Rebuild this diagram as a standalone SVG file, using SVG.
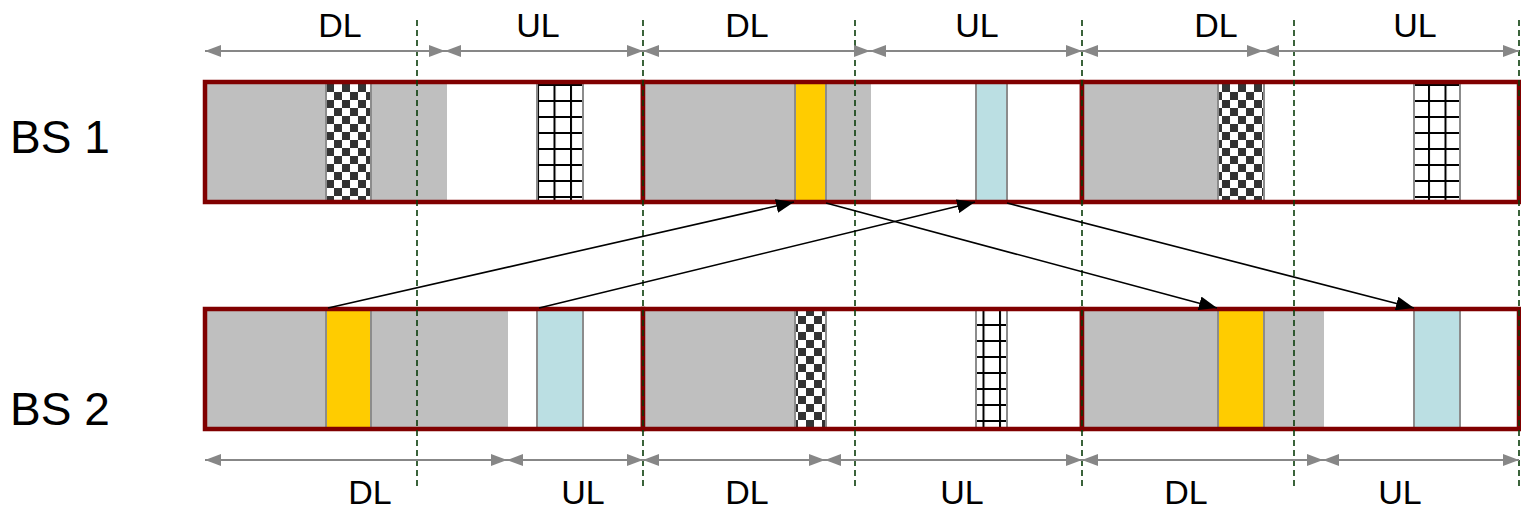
<svg xmlns="http://www.w3.org/2000/svg" width="1521" height="509" viewBox="0 0 1521 509">
<style>
.lbl{font-family:"Liberation Sans",Arial,sans-serif;font-size:34px;fill:#000;text-anchor:middle}
.bs{font-family:"Liberation Sans",Arial,sans-serif;font-size:46px;fill:#000}
.bg{fill:#BFBFBF}
.frame{fill:none;stroke:#800000;stroke-width:4.5}
.strip{stroke:#8C8C8C;stroke-width:2}
.y{fill:#FFCC00}
.b{fill:#BBDFE3}
.ck{fill:url(#checker)}
.gr{fill:url(#grid)}
.dash{stroke:#0B3D0B;stroke-width:1.6;stroke-dasharray:6 4;fill:none}
.span{stroke:#878787;stroke-width:2;fill:none;marker-start:url(#gh);marker-end:url(#gh)}
.conn{stroke:#000;stroke-width:1.6;fill:none;marker-end:url(#bh)}
</style>
<defs>
<pattern id="checker" patternUnits="userSpaceOnUse" x="326" y="84" width="16" height="16">
<rect width="16" height="16" fill="#fff"/>
<rect x="0" y="0" width="8" height="8" fill="#333"/>
<rect x="8" y="8" width="8" height="8" fill="#333"/>
</pattern>
<pattern id="grid" patternUnits="userSpaceOnUse" x="537" y="84" width="16.5" height="16">
<rect width="16.5" height="16" fill="#fff"/>
<rect x="0" y="0" width="2" height="16" fill="#000"/>
<rect x="0" y="0" width="16.5" height="2" fill="#000"/>
</pattern>
<marker id="gh" viewBox="0 0 16 12" refX="16" refY="6" markerWidth="16" markerHeight="12" markerUnits="userSpaceOnUse" orient="auto-start-reverse">
<path d="M0,0 L16,6 L0,12 z" fill="#878787"/>
</marker>
<marker id="bh" viewBox="0 0 18 14" refX="18" refY="7" markerWidth="18" markerHeight="14" markerUnits="userSpaceOnUse" orient="auto">
<path d="M0,0 L18,7 L0,14 z" fill="#000"/>
</marker>
</defs>
<rect width="1521" height="509" fill="#fff"/>

<text class="bs" x="10" y="153">BS 1</text>
<text class="bs" x="10" y="425">BS 2</text>

<g id="bs1-frame1">
<rect class="bg" x="205" y="82" width="242" height="120"/>
<rect class="strip ck" x="326" y="83" width="45" height="118"/>
<rect class="strip gr" x="537" y="83" width="46" height="118"/>
<rect class="frame" x="205" y="82" width="438" height="120"/>
</g>
<g id="bs1-frame2">
<rect class="bg" x="643" y="82" width="228" height="120"/>
<rect class="strip y" x="795" y="83" width="31" height="118"/>
<rect class="strip b" x="976" y="83" width="31" height="118"/>
<rect class="frame" x="643" y="82" width="439" height="120"/>
</g>
<g id="bs1-frame3">
<rect class="bg" x="1082" y="82" width="136" height="120"/>
<rect class="strip ck" x="1218" y="83" width="46" height="118"/>
<rect class="strip gr" x="1414" y="83" width="46" height="118"/>
<rect class="frame" x="1082" y="82" width="437" height="120"/>
</g>

<g id="bs2-frame1">
<rect class="bg" x="205" y="309" width="303" height="120"/>
<rect class="strip y" x="326" y="310" width="45" height="118"/>
<rect class="strip b" x="537" y="310" width="46" height="118"/>
<rect class="frame" x="205" y="309" width="438" height="120"/>
</g>
<g id="bs2-frame2">
<rect class="bg" x="643" y="309" width="152" height="120"/>
<rect class="strip ck" x="795" y="310" width="31" height="118"/>
<rect class="strip gr" x="976" y="310" width="31" height="118"/>
<rect class="frame" x="643" y="309" width="439" height="120"/>
</g>
<g id="bs2-frame3">
<rect class="bg" x="1082" y="309" width="242" height="120"/>
<rect class="strip y" x="1218" y="310" width="46" height="118"/>
<rect class="strip b" x="1414" y="310" width="46" height="118"/>
<rect class="frame" x="1082" y="309" width="437" height="120"/>
</g>

<g id="boundaries">
<line class="dash" x1="417" y1="20" x2="417" y2="490"/>
<line class="dash" x1="643" y1="20" x2="643" y2="490"/>
<line class="dash" x1="855" y1="20" x2="855" y2="490"/>
<line class="dash" x1="1082" y1="20" x2="1082" y2="490"/>
<line class="dash" x1="1294" y1="20" x2="1294" y2="490"/>
<line class="dash" x1="1519" y1="20" x2="1519" y2="490"/>
</g>

<g id="spans-top">
<line class="span" x1="205" y1="51" x2="445" y2="51"/>
<line class="span" x1="445" y1="51" x2="643" y2="51"/>
<line class="span" x1="643" y1="51" x2="870" y2="51"/>
<line class="span" x1="870" y1="51" x2="1082" y2="51"/>
<line class="span" x1="1082" y1="51" x2="1263" y2="51"/>
<line class="span" x1="1263" y1="51" x2="1519" y2="51"/>
<text class="lbl" x="340" y="37">DL</text>
<text class="lbl" x="538" y="37">UL</text>
<text class="lbl" x="747" y="37">DL</text>
<text class="lbl" x="977" y="37">UL</text>
<text class="lbl" x="1216" y="37">DL</text>
<text class="lbl" x="1415" y="37">UL</text>
</g>

<g id="spans-bottom">
<line class="span" x1="205" y1="460" x2="507" y2="460"/>
<line class="span" x1="507" y1="460" x2="643" y2="460"/>
<line class="span" x1="643" y1="460" x2="825" y2="460"/>
<line class="span" x1="825" y1="460" x2="1082" y2="460"/>
<line class="span" x1="1082" y1="460" x2="1323" y2="460"/>
<line class="span" x1="1323" y1="460" x2="1519" y2="460"/>
<text class="lbl" x="370" y="504">DL</text>
<text class="lbl" x="583" y="504">UL</text>
<text class="lbl" x="747" y="504">DL</text>
<text class="lbl" x="962" y="504">UL</text>
<text class="lbl" x="1186" y="504">DL</text>
<text class="lbl" x="1400" y="504">UL</text>
</g>

<g id="connectors">
<line class="conn" x1="328" y1="308" x2="794" y2="202"/>
<line class="conn" x1="539" y1="308" x2="975" y2="202"/>
<line class="conn" x1="826" y1="203" x2="1217" y2="308"/>
<line class="conn" x1="1007" y1="203" x2="1414" y2="308"/>
</g>
</svg>
